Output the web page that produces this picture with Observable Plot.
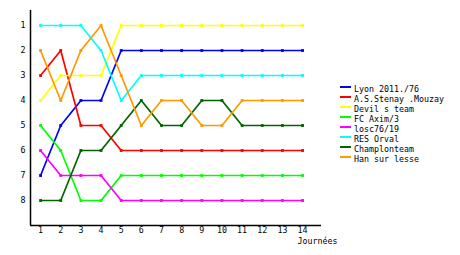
<!DOCTYPE html>
<html>
<head>
<meta charset="utf-8">
<script src="https://cdn.jsdelivr.net/npm/d3@7"></script>
<script src="https://cdn.jsdelivr.net/npm/@observablehq/plot@0.6"></script>
<style>
  body { margin: 0; background: #fff; }
  #wrap { position: relative; width: 460px; height: 255px; }
  #legend { position: absolute; left: 340px; top: 84px; font-family: "DejaVu Sans Mono", monospace; font-size: 8.3px; color: #000; }
  .row { display: flex; height: 10px; line-height: 10px; white-space: pre; }
  .sw { width: 11px; height: 2px; margin-top: 2px; margin-right: 3px; flex: none; }
</style>
</head>
<body>
<div id="wrap"><div id="legend"></div></div>
<script>
const days = [1,2,3,4,5,6,7,8,9,10,11,12,13,14];
const teams = ["Lyon 2011./76", "A.S.Stenay .Mouzay", "Devil s team", "FC Axim/3", "losc76/19", "RES Orval", "Champlonteam", "Han sur lesse"];
const colors = ["#0000ff", "#ff0000", "#ffff00", "#00ff00", "#ff00ff", "#00ffff", "#006400", "#ff9900"];
const lyon      = [7,5,4,4,2,2,2,2,2,2,2,2,2,2];
const stenay    = [3,2,5,5,6,6,6,6,6,6,6,6,6,6];
const devil     = [4,3,3,3,1,1,1,1,1,1,1,1,1,1];
const axim      = [5,6,8,8,7,7,7,7,7,7,7,7,7,7];
const losc      = [6,7,7,7,8,8,8,8,8,8,8,8,8,8];
const orval     = [1,1,1,2,4,3,3,3,3,3,3,3,3,3];
const champlon  = [8,8,6,6,5,4,5,5,4,4,5,5,5,5];
const han       = [2,4,2,1,3,5,4,4,5,5,4,4,4,4];
const rankTicks = [1,2,3,4,5,6,7,8];
const xLabel = "Journées";

const series = [lyon, stenay, devil, axim, losc, orval, champlon, han];
const rows = [];
series.forEach((s, i) => s.forEach((r, j) => rows.push({team: teams[i], day: days[j], rank: r})));

const font = "DejaVu Sans Mono, monospace";
const chart = Plot.plot({
  width: 460,
  height: 255,
  marginLeft: 30,
  marginTop: 10,
  marginBottom: 30,
  marginRight: 139,
  style: {fontFamily: font, fontSize: "8.3px", background: "#fff", color: "#000"},
  x: {domain: [0.5, 14.94]},
  y: {domain: [0.4, 9], reverse: true},
  color: {domain: teams, range: colors},
  marks: [
    Plot.axisY(rankTicks, {tickSize: 0, tickPadding: 5, label: null, fontFamily: font}),
    Plot.axisX(days, {tickSize: 0, tickPadding: 2, label: null, fontFamily: font}),
    Plot.ruleX([0.5], {stroke: "#000", strokeWidth: 1.5}),
    Plot.ruleY([9], {stroke: "#000", strokeWidth: 1.5}),
    Plot.line(rows, {x: "day", y: "rank", z: "team", stroke: "team", strokeWidth: 1.7}),
    Plot.dot(rows, {x: "day", y: "rank", fill: "team", symbol: "square", r: 1.6, stroke: null}),
    Plot.text([xLabel], {frameAnchor: "bottom-right", dx: 16, dy: 16, lineAnchor: "middle", text: d => d, textAnchor: "end", fontFamily: font})
  ]
});
document.getElementById("wrap").prepend(chart);

const legend = document.getElementById("legend");
teams.forEach((t, i) => {
  const row = document.createElement("div");
  row.className = "row";
  const sw = document.createElement("span");
  sw.className = "sw";
  sw.style.background = colors[i];
  const lab = document.createElement("span");
  lab.textContent = t;
  row.append(sw, lab);
  legend.append(row);
});
</script>
</body>
</html>
